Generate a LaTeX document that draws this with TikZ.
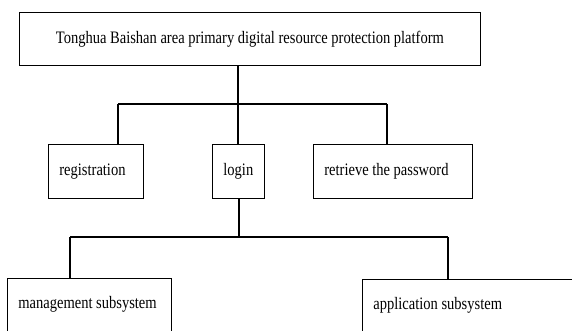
\documentclass[tikz,border=0pt]{standalone}
\usepackage{fontspec}
\setmainfont{Liberation Serif}[FakeStretch=0.83]
\DeclareRobustCommand\boxfont{\fontsize{17.5}{19}\selectfont\spaceskip=3.6pt plus 1pt minus 1pt\relax}
\tikzstyle{box}=[draw=black,line width=0.8pt,inner xsep=11pt,inner ysep=0pt,align=flush left,anchor=north west,font=\boxfont]
\tikzstyle{conn}=[line width=1.6pt]

\begin{document}
\begin{tikzpicture}[x=1pt,y=-1pt]
	\clip (0,0) rectangle (572,331);
	%boxes
	\node[box,align=flush center,text width=439pt,minimum height=53pt] (top) at (19,12)
	{Tonghua Baishan area primary digital resource protection platform};
	\node[box,text width=73pt,minimum height=54pt] (reg) at (48,144) {registration};
	\node[box,text width=30pt,minimum height=54pt] (login) at (212,144) {login};
	\node[box,text width=137pt,minimum height=54pt] (pwd) at (313,144) {retrieve the password};
	\node[box,text width=142pt,text height=30pt,text depth=30pt] (mgmt) at (7,278) {management subsystem};
	\node[box,text width=200pt,text height=30pt,text depth=30pt] (app) at (362,279) {application subsystem};
	%first level
	\coordinate (bus1) at (238,104);
	\coordinate (d1) at (118,104);
	\coordinate (d2) at (387,104);
	\draw[conn] (top.south -| bus1) -- (bus1);
	\draw[conn] (d1) -- (d2);
	\draw[conn] (d1) -- (d1 |- reg.north);
	\draw[conn] (bus1) -- (bus1 |- login.north);
	\draw[conn] (d2) -- (d2 |- pwd.north);
	%second level
	\coordinate (bus2) at (239,237);
	\coordinate (d3) at (70,237);
	\coordinate (d4) at (448,237);
	\draw[conn] (login.south -| bus2) -- (bus2);
	\draw[conn] (d3) -- (d4);
	\draw[conn] (d3) -- (d3 |- mgmt.north);
	\draw[conn] (d4) -- (d4 |- app.north);
\end{tikzpicture}
\end{document}
